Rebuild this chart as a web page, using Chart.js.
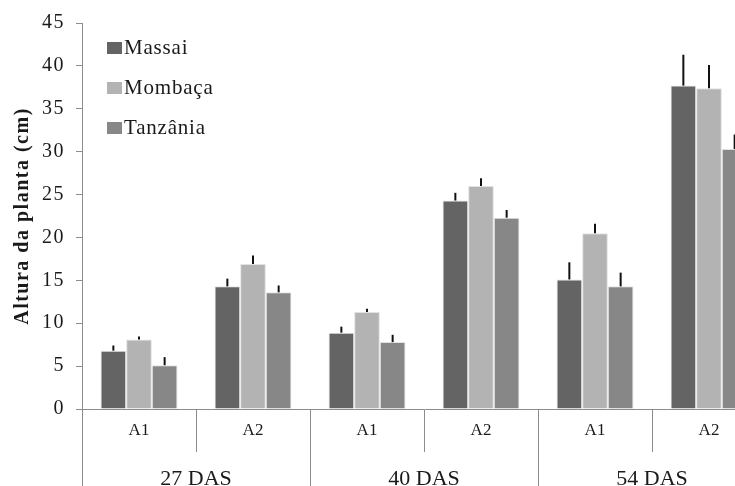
<!DOCTYPE html>
<html>
<head>
<meta charset="utf-8">
<script src="https://cdn.jsdelivr.net/npm/chart.js@4.4.1/dist/chart.umd.min.js"></script>
<style>
  html, body { margin: 0; padding: 0; width: 735px; height: 486px; overflow: hidden; background: #fff; }
  #wrap { position: absolute; left: 0; top: 0; width: 770px; height: 500px; }
</style>
</head>
<body>
<div id="wrap"><canvas id="chart"></canvas></div>
<script>
// Altura da planta
const categories = ['A1', 'A2', 'A1', 'A2', 'A1', 'A2'];
const groups = ['27 DAS', '40 DAS', '54 DAS'];
const yTicks = [0, 5, 10, 15, 20, 25, 30, 35, 40, 45];

const massai = [6.8, 14.3, 8.9, 24.3, 15.1, 37.7];
const mombaca = [8.1, 16.9, 11.3, 26.0, 20.5, 37.4];
const tanzania = [5.1, 13.6, 7.8, 22.3, 14.3, 30.3];

// erro padrão (só a parte de cima aparece)
const massaiErr = [0.6, 0.9, 0.7, 0.9, 2.0, 3.6];
const mombacaErr = [0.35, 1.0, 0.4, 0.9, 1.1, 2.7];
const tanzaniaErr = [0.95, 0.8, 0.85, 0.9, 1.6, 1.7];

const axisGray = '#8c8c8c';
const textColor = '#1a1a1a';
const serif = '"Liberation Serif", "Times New Roman", serif';

Chart.defaults.font.family = serif;
Chart.defaults.color = textColor;

// eixo y e título um pouco espaçados, como no original
const spacing = {
  id: 'spacing',
  beforeDraw(chart) { chart.ctx.letterSpacing = '1.5px'; }
};

const errorBars = {
  id: 'errorBars',
  afterDatasetsDraw(chart) {
    const ctx = chart.ctx;
    const yScale = chart.scales.y;
    ctx.save();
    ctx.strokeStyle = '#111';
    ctx.lineWidth = 2;
    chart.data.datasets.forEach((ds, i) => {
      const meta = chart.getDatasetMeta(i);
      meta.data.forEach((bar, j) => {
        const top = yScale.getPixelForValue(ds.data[j] + ds.errors[j]);
        ctx.beginPath();
        ctx.moveTo(bar.x, bar.y);
        ctx.lineTo(bar.x, top);
        ctx.stroke();
      });
    });
    ctx.restore();
    // rótulos do eixo x (z = 1) sem espaçamento extra
    ctx.letterSpacing = '0px';
  }
};

const seriesLegend = {
  id: 'seriesLegend',
  afterDraw(chart) {
    const ctx = chart.ctx;
    ctx.save();
    ctx.letterSpacing = '0.8px';
    ctx.font = '21px ' + serif;
    ctx.textBaseline = 'middle';
    chart.data.datasets.forEach((ds, i) => {
      const cy = 48 + i * 40;
      ctx.fillStyle = ds.backgroundColor;
      ctx.fillRect(107, cy - 6, 15, 12);
      ctx.fillStyle = textColor;
      ctx.fillText(ds.label, 124, cy);
    });
    ctx.restore();
  }
};

new Chart(document.getElementById('chart'), {
  type: 'bar',
  data: {
    labels: categories,
    datasets: [
      { label: 'Massai', data: massai, errors: massaiErr, backgroundColor: '#646464' },
      { label: 'Mombaça', data: mombaca, errors: mombacaErr, backgroundColor: '#b3b3b3' },
      { label: 'Tanzânia', data: tanzania, errors: tanzaniaErr, backgroundColor: '#878787' }
    ].map(ds => Object.assign(ds, {
      borderColor: '#e2e2e2',
      borderWidth: 1,
      barPercentage: 1,
      categoryPercentage: 0.675
    }))
  },
  options: {
    responsive: true,
    maintainAspectRatio: false,
    animation: false,
    layout: { padding: { left: 0, top: 20, right: 4, bottom: 0 } },
    plugins: {
      legend: { display: false },
      tooltip: { enabled: false }
    },
    scales: {
      x: {
        position: 'bottom',
        offset: true,
        grid: { display: true, drawOnChartArea: false, offset: true, tickLength: 43, color: axisGray, lineWidth: 1 },
        border: { display: true, color: axisGray, width: 1 },
        ticks: { z: 1, font: { size: 17 }, padding: -32, maxRotation: 0, autoSkip: false, color: textColor },
        afterFit(scale) { scale.height = 43; }
      },
      x2: {
        type: 'category',
        position: 'bottom',
        labels: groups,
        offset: true,
        grid: { display: true, drawOnChartArea: false, offset: true, tickLength: 48, color: axisGray, lineWidth: 1 },
        border: { display: false },
        ticks: { z: 1, font: { size: 22 }, padding: -34, maxRotation: 0, autoSkip: false, color: textColor },
        afterFit(scale) { scale.height = 48; }
      },
      y: {
        min: 0,
        max: 45,
        afterBuildTicks(scale) { scale.ticks = yTicks.map(v => ({ value: v })); },
        grid: { display: true, drawOnChartArea: false, tickLength: 6, color: axisGray },
        border: { display: true, color: axisGray, width: 1 },
        ticks: { font: { size: 20 }, padding: 11, color: textColor },
        title: {
          display: true,
          text: 'Altura da planta (cm)',
          font: { size: 20, weight: 'bold' },
          color: textColor,
          padding: { top: 11, bottom: 0 }
        },
        afterFit(scale) { scale.width = 82; }
      }
    }
  },
  plugins: [spacing, errorBars, seriesLegend]
});
</script>
</body>
</html>
